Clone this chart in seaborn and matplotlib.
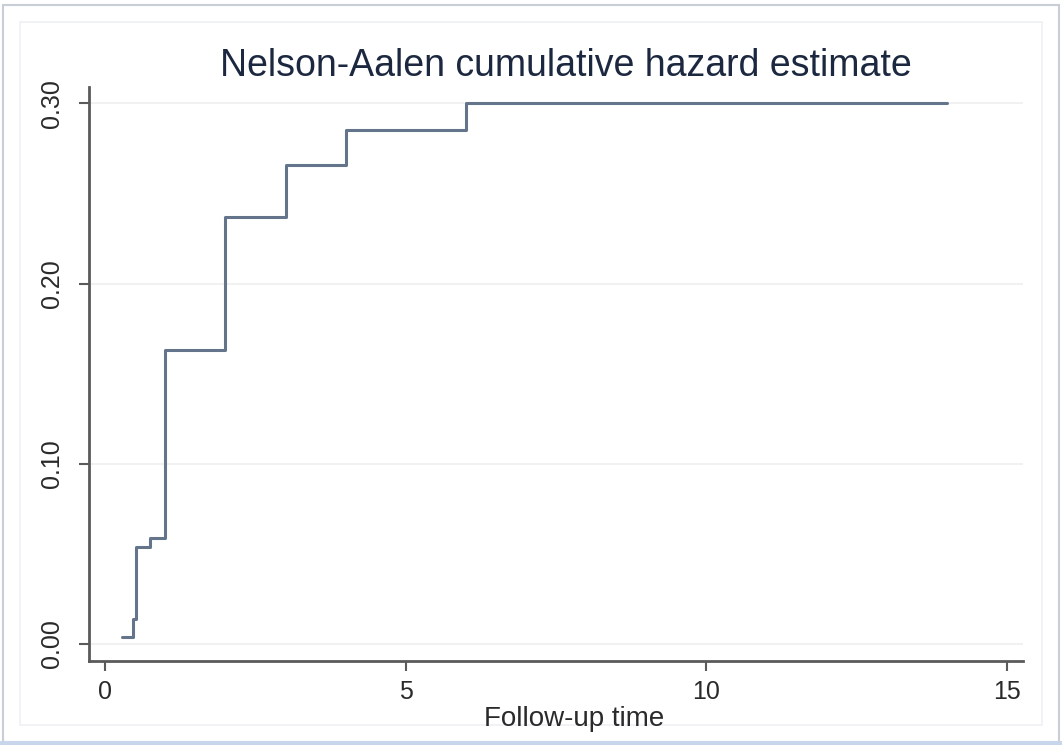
import numpy as np
import pandas as pd
import matplotlib
matplotlib.use("Agg")
import matplotlib.pyplot as plt
import matplotlib.patches as patches
import seaborn as sns

# Nelson-Aalen cumulative hazard
follow_up_time = [0.28, 0.47, 0.52, 0.75, 1.0, 2.0, 3.0, 4.0, 6.0, 14.0]
cum_hazard = [0.004, 0.014, 0.054, 0.059, 0.163, 0.237, 0.266, 0.285, 0.300, 0.300]

x_ticks = [0, 5, 10, 15]
y_ticks = [0.00, 0.10, 0.20, 0.30]

LINE_COLOR = "#64758b"
TITLE_COLOR = "#1c2840"
SPINE_COLOR = "#5a5a5a"

df = pd.DataFrame({"time": follow_up_time, "hazard": cum_hazard})

sns.set_style("white")
plt.rcParams["font.family"] = ["Liberation Sans", "DejaVu Sans"]

fig = plt.figure(figsize=(10.62, 7.45), dpi=100)
fig.patch.set_facecolor("white")
ax = fig.add_axes([89 / 1062, 1 - 661 / 745, (1023 - 89) / 1062, (661 - 87) / 745])
ax.set_facecolor("white")

# outer frames, as in the screenshot
fig.patches.append(patches.Rectangle(
    (3 / 1062, 3 / 745), 1 - 6 / 1062, 1 - 8 / 745,
    transform=fig.transFigure, fill=False, edgecolor="#c9ced6", linewidth=1.5))
fig.patches.append(patches.Rectangle(
    (20 / 1062, 20 / 745), 1 - 40 / 1062, 1 - 42 / 745,
    transform=fig.transFigure, fill=False, edgecolor="#eef0f3", linewidth=1.2))
fig.patches.append(patches.Rectangle(
    (0, 0), 1, 4 / 745, transform=fig.transFigure,
    facecolor="#c7d6ea", edgecolor="none"))

for yv in y_ticks:
    ax.axhline(yv, color="#efefef", linewidth=1.2, zorder=0)

sns.lineplot(
    data=df, x="time", y="hazard", ax=ax,
    drawstyle="steps-post", color=LINE_COLOR, linewidth=2.2,
)

ax.set_xlim(-0.27, 15.27)
ax.set_ylim(-0.0094, 0.309)
ax.set_xticks(x_ticks)
ax.set_yticks(y_ticks)
ax.set_yticklabels([f"{v:.2f}" for v in y_ticks], rotation=90, va="center")
ax.tick_params(axis="both", which="major", bottom=True, left=True,
               direction="out", length=7, width=1.5,
               color=SPINE_COLOR, labelsize=18, labelcolor="#2a2a2a", pad=7)
ax.tick_params(axis="y", pad=11)

ax.set_xlabel("")
ax.set_ylabel("")

for side in ["top", "right"]:
    ax.spines[side].set_visible(False)
for side in ["left", "bottom"]:
    ax.spines[side].set_color(SPINE_COLOR)
    ax.spines[side].set_linewidth(2)

fig.text(566 / 1062, 1 - 66 / 745, "Nelson-Aalen cumulative hazard estimate",
         ha="center", va="center", fontsize=27, color=TITLE_COLOR)
fig.text(574 / 1062, 1 - 719 / 745, "Follow-up time",
         ha="center", va="center", fontsize=20, color="#2a2a2a")

fig.savefig("out.png", dpi=100)
plt.close(fig)
